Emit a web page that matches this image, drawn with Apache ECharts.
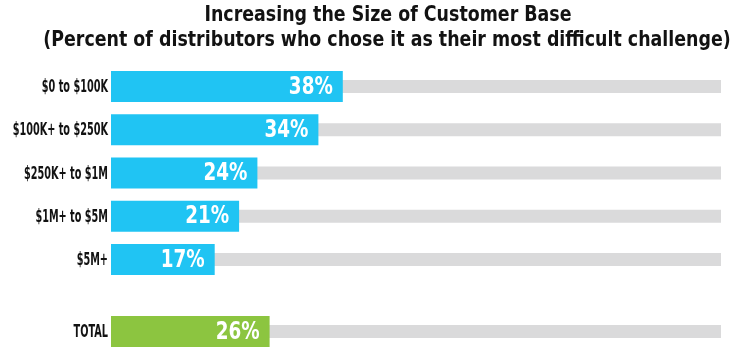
<!DOCTYPE html>
<html>
<head>
<meta charset="utf-8">
<script src="https://cdn.jsdelivr.net/npm/echarts@6/dist/echarts.min.js"></script>
<style>
  html, body { margin: 0; padding: 0; background: #fff; }
  #chart { width: 750px; height: 353px; }
</style>
</head>
<body>
<div id="chart"></div>
<script>
// data
var titleLines = ['Increasing the Size of Customer Base',
    '(Percent of distributors who chose it as their most difficult challenge)'];
var sizeCats = ['$0 to $100K', '$100K+ to $250K', '$250K+ to $1M', '$1M+ to $5M', '$5M+'];
var sizeVals = [38, 34, 24, 21, 17];
var totalCats = ['TOTAL'];
var totalVals = [26];
var fullScale = 100;

// no condensed bold font here, so squeeze DejaVu Condensed horizontally
var FONT = '"DejaVu Sans Condensed", "DejaVu Sans", sans-serif';
var BLUE = '#20c4f3', GREEN = '#8cc540', GRAY = '#dadadb', INK = '#121212';

function full(arr) { return arr.map(() => fullScale); }

var chart = echarts.init(document.getElementById('chart'), null, {renderer: 'canvas'});

function catAxis(grid, cats) {
    return {
        type: 'category', gridIndex: grid, data: cats, inverse: true,
        axisLine: {show: false}, axisTick: {show: false}, splitLine: {show: false},
        axisLabel: {show: false}
    };
}

// category names, placed left of the axis through the axis scale
function nameSeries(x, y, cats) {
    return {
        type: 'custom', xAxisIndex: x, yAxisIndex: y, silent: true, z: 5,
        data: cats.map(c => [0, c]),
        renderItem: (params, api) => {
            var p = api.coord([0, api.value(1)]);
            return {
                type: 'text', x: p[0] - 3, y: p[1] + 1, scaleX: 0.6,
                style: {
                    text: cats[params.dataIndex], textAlign: 'right',
                    textVerticalAlign: 'middle', fill: INK,
                    font: 'bold 18px ' + FONT
                }
            };
        }
    };
}

// percent labels inside the end of each bar
function valueSeries(x, y, cats, vals) {
    return {
        type: 'custom', xAxisIndex: x, yAxisIndex: y, silent: true, z: 5,
        data: vals.map((v, i) => [v, cats[i]]),
        renderItem: (params, api) => {
            var p = api.coord([api.value(0), api.value(1)]);
            return {
                type: 'text', x: p[0] - 10, y: p[1] + 1, scaleX: 0.85,
                style: {
                    text: api.value(0) + '%', textAlign: 'right',
                    textVerticalAlign: 'middle', fill: '#fff',
                    font: 'bold 24px ' + FONT
                }
            };
        }
    };
}

var option = {
    animation: false,
    graphic: [
        {type: 'text', x: 388, y: 15, scaleX: 0.88, style: {
            text: titleLines[0], textAlign: 'center', textVerticalAlign: 'middle',
            fill: INK, font: 'bold 22px ' + FONT }},
        {type: 'text', x: 387, y: 40, scaleX: 0.88, style: {
            text: titleLines[1], textAlign: 'center', textVerticalAlign: 'middle',
            fill: INK, font: 'bold 22px ' + FONT }}
    ],
    grid: [
        {left: 111, width: 610, top: 65, height: 216, outerBoundsMode: 'none'},
        {left: 111, width: 610, top: 310, height: 43, outerBoundsMode: 'none'}
    ],
    xAxis: [0, 1].map(g => ({
        type: 'value', gridIndex: g, min: 0, max: fullScale, show: false
    })),
    yAxis: [
        catAxis(0, sizeCats),
        catAxis(0, sizeCats),
        catAxis(1, totalCats),
        catAxis(1, totalCats)
    ],
    series: [
        // gray track behind each bar
        {type: 'bar', xAxisIndex: 0, yAxisIndex: 1, data: full(sizeCats),
         barWidth: 13, itemStyle: {color: GRAY}, silent: true, z: 1},
        {type: 'bar', xAxisIndex: 1, yAxisIndex: 3, data: full(totalCats),
         barWidth: 13, itemStyle: {color: GRAY}, silent: true, z: 1},
        {type: 'bar', xAxisIndex: 0, yAxisIndex: 0, data: sizeVals,
         barWidth: 31, itemStyle: {color: BLUE}, z: 2},
        {type: 'bar', xAxisIndex: 1, yAxisIndex: 2, data: totalVals,
         barWidth: 31, itemStyle: {color: GREEN}, z: 2},
        nameSeries(0, 0, sizeCats),
        nameSeries(1, 2, totalCats),
        valueSeries(0, 0, sizeCats, sizeVals),
        valueSeries(1, 2, totalCats, totalVals)
    ]
};

chart.setOption(option);
window.addEventListener('resize', chart.resize);
</script>
</body>
</html>
